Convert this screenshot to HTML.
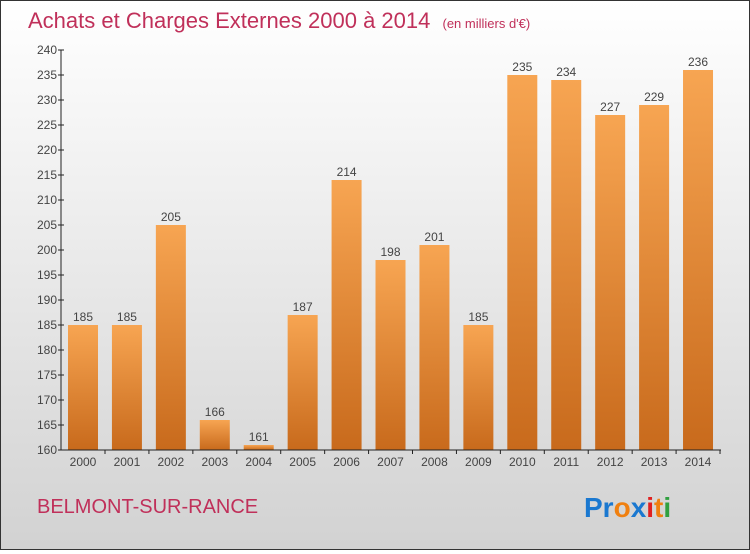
<!DOCTYPE html>
<html><head><meta charset="utf-8"><style>
html,body{margin:0;padding:0}
body{width:750px;height:550px;overflow:hidden;font-family:"Liberation Sans",sans-serif}
#wrap{position:relative;width:748px;height:548px;border:1px solid #333;background:linear-gradient(#ffffff,#d2d2d2)}
</style></head><body>
<div id="wrap">
<svg width="748" height="548">
<defs>
<linearGradient id="bg" x1="0" y1="0" x2="0" y2="1"><stop offset="0" stop-color="#f7a552"/><stop offset="1" stop-color="#c86a1c"/></linearGradient>
</defs>
<text x="27" y="27" font-size="22" fill="#c0305a">Achats et Charges Externes 2000 à 2014 <tspan font-size="13" dx="6">(en milliers d'€)</tspan></text>
<g id="bars"></g>
<g id="axes"></g>
<text x="36" y="512" font-size="20" fill="#c0305a">BELMONT-SUR-RANCE</text>
<text x="583" y="516" font-size="28" font-weight="bold"><tspan fill="#1a78d0">Pr</tspan><tspan fill="#f08010">o</tspan><tspan fill="#1a78d0">x</tspan><tspan fill="#e02020">i</tspan><tspan fill="#f08010">t</tspan><tspan fill="#30a040">i</tspan></text>
</svg>
</div>
<script>
const years=["2000","2001","2002","2003","2004","2005","2006","2007","2008","2009","2010","2011","2012","2013","2014"];
const values=[185,185,205,166,161,187,214,198,201,185,235,234,227,229,236];
const yTicks=[160,165,170,175,180,185,190,195,200,205,210,215,220,225,230,235,240];
const NS="http://www.w3.org/2000/svg";
const y0=449,yMin=160,pxPer=5;
function yS(v){return y0-(v-yMin)*pxPer;}
function xS(i){return 82+i*43.93;}
function mk(t,a,p){const e=document.createElementNS(NS,t);for(const k in a)e.setAttribute(k,a[k]);p.appendChild(e);return e;}
const bars=document.getElementById('bars'),axes=document.getElementById('axes');
values.forEach((v,i)=>{
 const r=mk('rect',{x:xS(i)-15,y:yS(v),width:30,height:y0-yS(v),fill:'url(#bg)'},bars);
 
 
 const t=mk('text',{x:xS(i),y:yS(v)-4,'font-size':12,fill:'#444','text-anchor':'middle'},bars);
 t.textContent=v;
 
 
 const xl=mk('text',{x:xS(i),y:y0+16,'font-size':12,fill:'#444','text-anchor':'middle'},axes);
 xl.textContent=years[i];
 
 
 mk('line',{x1:xS(i)+22,x2:xS(i)+22,y1:y0,y2:y0+4,stroke:'#222'},axes);
});
const ya=mk('line',{x1:60,x2:60,y1:49,y2:y0,stroke:'#222'},axes);


const xa=mk('line',{x1:60,x2:720,y1:y0,y2:y0,stroke:'#222'},axes);


yTicks.forEach(v=>{
 mk('line',{x1:57,x2:63,y1:yS(v),y2:yS(v),stroke:'#222'},axes);
 const t=mk('text',{x:56,y:yS(v)+4,'font-size':12,fill:'#444','text-anchor':'end'},axes);
 t.textContent=v;
 
 
});
</script>
</body></html>
